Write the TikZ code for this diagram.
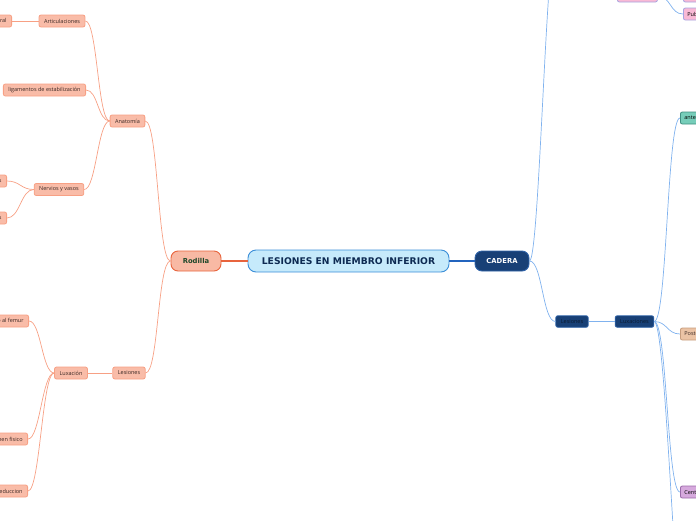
\documentclass[tikz,border=0pt]{standalone}
\usepackage{fontspec}
\setmainfont{Open Sans}
\newfontfamily\wideface{DejaVu Sans}
\usepackage{xcolor}
\definecolor{rootfill}{RGB}{198, 234, 251}
\definecolor{rootline}{RGB}{59, 142, 216}
\definecolor{roottext}{RGB}{13, 42, 82}
\definecolor{rodfill}{RGB}{248, 185, 164}
\definecolor{rodline}{RGB}{232, 100, 61}
\definecolor{rodtext}{RGB}{30, 72, 42}
\definecolor{salfill}{RGB}{249, 188, 168}
\definecolor{salline}{RGB}{247, 160, 132}
\definecolor{saltext}{RGB}{58, 40, 36}
\definecolor{navyfill}{RGB}{24, 64, 118}
\definecolor{navyline}{RGB}{47, 99, 168}
\definecolor{navytext}{RGB}{10, 26, 48}
\definecolor{cadconn}{RGB}{35, 100, 190}
\definecolor{blueconn}{RGB}{128, 178, 238}
\definecolor{pinkfill}{RGB}{249, 185, 213}
\definecolor{pinkline}{RGB}{167, 164, 224}
\definecolor{tealfill}{RGB}{118, 205, 185}
\definecolor{tealline}{RGB}{63, 143, 128}
\definecolor{tanfill}{RGB}{235, 195, 165}
\definecolor{tanline}{RGB}{199, 156, 124}
\definecolor{lilafill}{RGB}{214, 169, 221}
\definecolor{lilaline}{RGB}{155, 106, 169}

\begin{document}
\begin{tikzpicture}[x=1pt, y=-1pt,
  small/.style={font=\fontsize{5.5}{6}\selectfont},
  leftbox/.style={small, draw=salline, fill=salfill, text=saltext, line width=0.8pt,
    rounded corners=2pt, minimum height=12pt, inner xsep=5pt, inner ysep=0pt},
  navybox/.style={small, draw=navyline, fill=navyfill, text=navytext, line width=0.8pt,
    rounded corners=2pt, minimum height=11.5pt, inner xsep=5pt, inner ysep=0pt},
  rightbox/.style={small, line width=0.8pt, rounded corners=2pt, minimum height=12pt,
    inner xsep=4pt, inner ysep=0pt, anchor=west},
  mainbox/.style={line width=0.9pt, rounded corners=7pt, minimum height=20pt,
    font=\wideface\fontsize{6.8}{8}\selectfont\bfseries},
  lconn/.style={salline, line width=0.7pt},
  rconn/.style={blueconn, line width=0.7pt}]

  \useasboundingbox (0,0) rectangle (696,520);
  \clip (0,0) rectangle (696,520);

  % --- Central topic and main branches ---
  \node[draw=rootline, fill=rootfill, text=roottext, line width=0.9pt, rounded corners=8pt,
    minimum width=201pt, minimum height=22pt, font=\wideface\fontsize{9.2}{10}\selectfont\bfseries]
    (root) at (348.5,261) {LESIONES EN MIEMBRO INFERIOR};
  \node[mainbox, draw=rodline, fill=rodfill, text=rodtext, minimum width=50pt]
    (rod) at (196,261) {Rodilla};
  \node[mainbox, draw=navyline, fill=navyfill, text=white, minimum width=54pt]
    (cad) at (502,261) {CADERA};

  \draw[rodline, line width=1.2pt] (rod.east) -- (root.west);
  \draw[cadconn, line width=1.2pt] (root.east) -- (cad.west);

  % --- Rodilla ---
  \node[leftbox] (anat) at (127.5,121) {Anatomía};
  \node[leftbox] (lesr) at (129,373) {Lesiones};
  \node[leftbox] (art) at (62,21) {Articulaciones};
  \node[leftbox, anchor=east] (lig) at (86,90) {ligamentos de estabilización};
  \node[leftbox] (nerv) at (59,189.5) {Nervios y vasos};
  \node[leftbox] (lux) at (71,373) {Luxación};

  % cut by the left edge
  \node[leftbox, anchor=east] (femtib) at (12,21) {Femorotibial medial y lateral};
  \node[leftbox, anchor=east] (vasos) at (7,181) {Vasos poplíteos};
  \node[leftbox, anchor=east] (arter) at (7,218) {Arterias geniculares};
  \node[leftbox, anchor=east] (femur) at (29,321) {Tibia respecto al femur};
  \node[leftbox, anchor=east] (fisico) at (28,439) {Examen fisico};
  \node[leftbox, anchor=east] (reduc) at (28,491) {Reduccion};

  \foreach \c in {anat, lesr}
    \draw[lconn] (rod.west) .. controls +(-13,0) and +(13,0) .. (\c.east);
  \foreach \c in {art, lig, nerv}
    \draw[lconn] (anat.west) .. controls +(-12,0) and +(12,0) .. (\c.east);
  \foreach \c in {vasos, arter}
    \draw[lconn] (nerv.west) .. controls +(-13,0) and +(13,0) .. (\c.east);
  \foreach \c in {femur, fisico, reduc}
    \draw[lconn] (lux.west) .. controls +(-12,0) and +(12,0) .. (\c.east);
  \draw[lconn] (art.west) -- (femtib.east);
  \draw[lconn] (lesr.west) -- (lux.east);

  % --- Cadera ---
  \node[navybox] (lesc) at (572,321.5) {Lesiones};
  \node[navybox] (luxs) at (634.5,321.5) {Luxaciones};

  % cut by the top and right edges
  \node[rightbox, draw=pinkline, fill=pinkfill, minimum width=40pt] (ligc) at (617,-4) {Ligamentos};
  \node[rightbox, draw=pinkline, fill=pinkfill] (ilio) at (683,-4) {Iliofemoral};
  \node[rightbox, draw=pinkline, fill=pinkfill] (pubo) at (683,14) {Pubofemoral};
  \node[rightbox, draw=tealline, fill=tealfill] (ante) at (680,118) {anterior};
  \node[rightbox, draw=tanline, fill=tanfill, text=saltext] (post) at (680,334) {Posterior};
  \node[rightbox, draw=lilaline, fill=lilafill] (cent) at (680,492) {Central};
  \coordinate (anatc) at (556,-60);
  \coordinate (lxbot) at (690,700);

  \draw[rconn] (cad.east) .. controls +(10,0) and +(-10,0) .. (anatc);
  \draw[rconn] (cad.east) .. controls +(13,0) and +(-13,0) .. (lesc.west);
  \draw[rconn] (lesc.east) -- (luxs.west);
  \foreach \c in {ilio, pubo}
    \draw[rconn] (ligc.east) .. controls +(13,0) and +(-13,0) .. (\c.west);
  \foreach \c in {ante, post, cent}
    \draw[rconn] (luxs.east) .. controls +(13,0) and +(-13,0) .. (\c.west);
  \draw[rconn] (luxs.east) .. controls +(13,0) and +(-13,0) .. (lxbot);

\end{tikzpicture}
\end{document}
